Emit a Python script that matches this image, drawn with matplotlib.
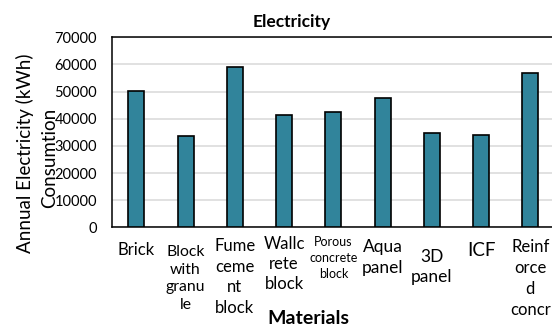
import matplotlib.pyplot as plt
import numpy as np

plt.rcParams['font.family'] = ['Lato', 'DejaVu Sans']

materials = ['Brick', 'Block\nwith\ngranu\nle', 'Fume\nceme\nnt\nblock', 'Wallc\nrete\nblock',
             'Porous\nconcrete\nblock', 'Aqua\npanel', '3D\npanel', 'ICF', 'Reinf\norce\nd\nconcr']
electricity = [50200, 33500, 59100, 41300, 42400, 47500, 34900, 33900, 57000]

# per-label look of the category names (size pt, drop below axis in px, line spacing)
label_size = [12, 11.3, 12, 12, 9, 12.5, 12.5, 13.5, 12]
label_drop = [22.7, 51.2, 49.7, 36.7, 30.7, 30.2, 39.7, 22.7, 51.2]
label_lsp = [1.0, 1.36, 1.37, 1.33, 1.35, 1.34, 1.28, 1.0, 1.36]

fig = plt.figure(figsize=(5.52, 3.29), dpi=100)
ax = fig.add_axes([111.7 / 552, 101.7 / 329, 443.3 / 552, 190 / 329])

x = np.arange(len(materials))
ax.bar(x, electricity, width=0.325, color='#31849b', edgecolor='black', linewidth=1.2, zorder=3)

ax.set_xlim(-0.5, len(materials) - 0.5)
ax.set_ylim(0, 70000)
ax.set_yticks(np.arange(0, 70001, 10000))
ax.yaxis.grid(True, color='#d9d9d9', linewidth=1.1, zorder=0)
ax.tick_params(axis='y', length=0, pad=10.5, labelsize=10.5)
ax.set_xticks([])
for s in ax.spines.values():
    s.set_linewidth(1.1)
    s.set_color('black')

for i, lab in enumerate(materials):
    ax.annotate(lab, xy=(i, 0), xycoords=('data', 'axes fraction'),
                xytext=(0, -label_drop[i] * 0.72), textcoords='offset points',
                ha='center', va='center', multialignment='center',
                fontsize=label_size[i], linespacing=label_lsp[i], annotation_clip=False)

fig.text(292 / 552, 1 - 22 / 329, 'Electricity', ha='center', va='center', fontsize=12.5, fontweight='bold')
fig.text(308 / 552, 1 - 318 / 329, 'Materials', ha='center', va='center', fontsize=14, fontweight='bold')
fig.text(25 / 552, 1 - 153 / 329, 'Annual Electricity (kWh)', rotation=90, ha='center', va='center', fontsize=13.5)
fig.text(50 / 552, 1 - 158 / 329, 'Consumtion', rotation=90, ha='center', va='center', fontsize=13.5)

fig.savefig('out.png', dpi=100)
